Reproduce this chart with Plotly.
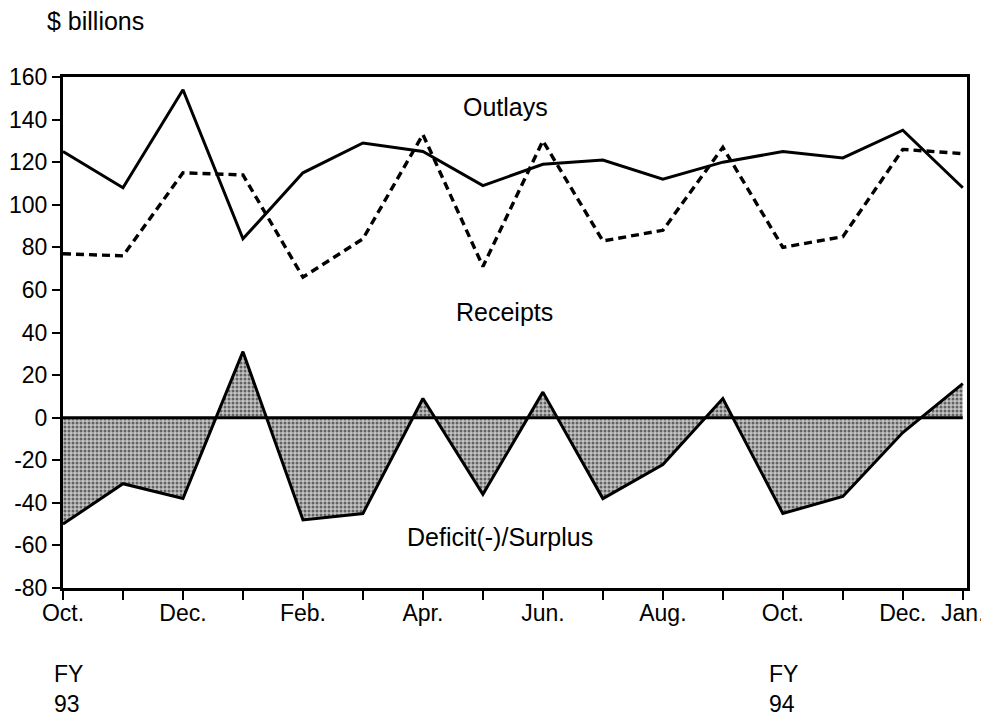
import plotly.graph_objects as go

# months Oct 92 .. Jan 94, only some get a label
month_pos = list(range(16))
month_labels = ["Oct.", "", "Dec.", "", "Feb.", "", "Apr.", "", "Jun.", "",
                "Aug.", "", "Oct.", "", "Dec.", "Jan."]

outlays = [125, 108, 154, 84, 115, 129, 125, 109, 119, 121, 112, 120, 125, 122, 135, 108]
receipts = [77, 76, 115, 114, 66, 84, 133, 71, 130, 83, 88, 127, 80, 85, 126, 124]
deficit = [-50, -31, -38, 31, -48, -45, 9, -36, 12, -38, -22, 9, -45, -37, -7, 16]

y_ticks = [-80, -60, -40, -20, 0, 20, 40, 60, 80, 100, 120, 140, 160]
y_labels = ["-80", "-60", "-40", "-20", "0", "20", "40", "60", "80", "100", "120", "140", "160"]

font = "Liberation Sans, Arial, Helvetica, sans-serif"

fig = go.Figure()

# deficit / surplus, stippled fill down to zero
fig.add_trace(go.Scatter(
    x=month_pos, y=deficit, mode="lines",
    line=dict(color="black", width=3),
    fill="tozeroy",
    fillcolor="rgba(0,0,0,0)",
    fillpattern=dict(shape=".", fgcolor="black", bgcolor="#c4c4c4", size=4, solidity=0.45),
    name="Deficit(-)/Surplus",
))

# zero line
fig.add_shape(type="line", xref="x", yref="y",
              x0=month_pos[0], x1=month_pos[-1], y0=0, y1=0,
              line=dict(color="black", width=3))

fig.add_trace(go.Scatter(
    x=month_pos, y=receipts, mode="lines",
    line=dict(color="black", width=3.4, dash="8px,5px"),
    name="Receipts",
))

fig.add_trace(go.Scatter(
    x=month_pos, y=outlays, mode="lines",
    line=dict(color="black", width=3),
    name="Outlays",
))

txt = dict(family=font, size=23, color="black")
big = dict(family=font, size=25, color="black")

fig.add_annotation(x=7.37, y=146, xref="x", yref="y", text="Outlays",
                   showarrow=False, font=big)
fig.add_annotation(x=7.36, y=49.5, xref="x", yref="y", text="Receipts",
                   showarrow=False, font=big)
fig.add_annotation(x=7.28, y=-56, xref="x", yref="y", text="Deficit(-)/Surplus",
                   showarrow=False, font=big)
fig.add_annotation(x=0.0365, y=1.11, xref="paper", yref="paper", text="$ billions",
                   showarrow=False, font=big, xanchor="center", yanchor="middle")

# fiscal year marks under the axis
for mx, fy, dx in [(0, "93", -11), (12, "94", -16)]:
    fig.add_annotation(x=mx, y=-0.139, xref="x", yref="paper", text="FY",
                       showarrow=False, font=txt, xanchor="left", yanchor="top",
                       xshift=dx)
    fig.add_annotation(x=mx, y=-0.2555, xref="x", yref="paper", text=fy,
                       showarrow=False, font=txt, xanchor="left", yanchor="bottom",
                       xshift=dx)

fig.update_xaxes(
    range=[0, 15.07],
    tickmode="array", tickvals=month_pos, ticktext=month_labels,
    ticks="outside", ticklen=9, tickwidth=2, tickcolor="black",
    ticklabelstandoff=-7,
    showline=True, linecolor="black", linewidth=3, mirror=True,
    showgrid=False, zeroline=False, automargin=False,
    tickfont=txt,
)
fig.update_yaxes(
    range=[-80, 160],
    tickmode="array", tickvals=y_ticks, ticktext=y_labels,
    ticks="outside", ticklen=8, tickwidth=2, tickcolor="black",
    showline=True, linecolor="black", linewidth=3, mirror=True,
    showgrid=False, zeroline=False, automargin=False,
    tickfont=txt,
)

# the page body adds an 8px offset, so the figure is sized to fit the window
fig.update_layout(
    width=981, height=711,
    margin=dict(l=55, r=22, t=69, b=131),
    plot_bgcolor="white", paper_bgcolor="white",
    showlegend=False,
    font=dict(family=font),
)

fig.write_html("out.html")
